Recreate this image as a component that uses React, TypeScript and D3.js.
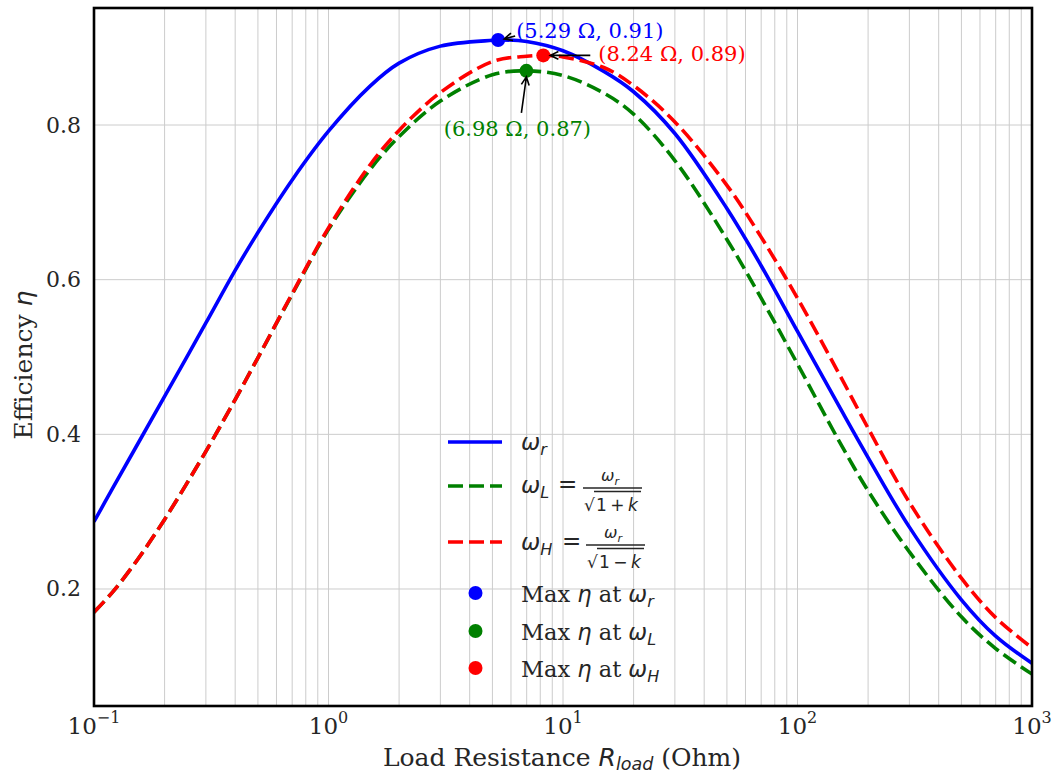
import React from 'react';
import * as d3 from 'd3';

// ---------- data ----------
const R_VALUES = [0.1, 0.12, 0.15, 0.2, 0.3, 0.4, 0.5, 0.7, 1, 1.5, 2, 3, 5, 7, 10, 15, 20, 30, 50, 70, 100, 150, 200, 300, 500, 700, 1000];
const ETA_R = [0.287, 0.330, 0.382, 0.449, 0.544, 0.612, 0.661, 0.729, 0.792, 0.850, 0.880, 0.902, 0.9095, 0.908, 0.896, 0.869, 0.843, 0.789, 0.692, 0.618, 0.533, 0.437, 0.370, 0.280, 0.186, 0.139, 0.104];
const ETA_L = [0.170, 0.196, 0.234, 0.290, 0.378, 0.445, 0.499, 0.581, 0.665, 0.742, 0.785, 0.831, 0.865, 0.870, 0.864, 0.841, 0.814, 0.754, 0.652, 0.576, 0.491, 0.392, 0.327, 0.248, 0.164, 0.123, 0.090];
const ETA_H = [0.170, 0.196, 0.234, 0.290, 0.378, 0.445, 0.499, 0.582, 0.667, 0.748, 0.793, 0.842, 0.882, 0.889, 0.888, 0.874, 0.851, 0.804, 0.722, 0.655, 0.576, 0.479, 0.408, 0.312, 0.214, 0.163, 0.124];

const PEAK_R = [5.29, 6.98, 8.24];
const PEAK_ETA = [0.91, 0.87, 0.89];
const PEAK_LABELS = ['(5.29 Ω, 0.91)', '(6.98 Ω, 0.87)', '(8.24 Ω, 0.89)'];
const SERIES_COLORS = ['#0000ff', '#008000', '#ff0000'];
const SERIES_DASH = [null, '15 6', '15 6'];

const X_TICK_EXP = [-1, 0, 1, 2, 3];
const Y_TICKS = [0.2, 0.4, 0.6, 0.8];

// ---------- layout ----------
const W = 1055;
const H = 774;
const PLOT = { left: 94, right: 1032, top: 8, bottom: 706 };
const TXT = '#262626';
const SERIF = 'DejaVu Serif';
const SANS = 'DejaVu Sans';

const x = d3.scaleLog().domain([0.1, 1000]).range([PLOT.left, PLOT.right]);
const y = d3.scaleLinear().domain([0.0487, 0.9513]).range([PLOT.bottom, PLOT.top]);

function seriesPoints(vals: number[], peakIdx: number): [number, number][] {
  const pr = PEAK_R[peakIdx];
  const pts: [number, number][] = R_VALUES.map((r, i) => [r, vals[i]] as [number, number]).filter(
    (p) => Math.abs(Math.log10(p[0]) - Math.log10(pr)) > 0.01
  );
  pts.push([pr, PEAK_ETA[peakIdx]]);
  pts.sort((a, b) => a[0] - b[0]);
  return pts;
}

const lineGen = d3
  .line<[number, number]>()
  .x((d) => x(d[0]))
  .y((d) => y(d[1]))
  .curve(d3.curveCatmullRom.alpha(0.5));

function arrowPath(x1: number, y1: number, x2: number, y2: number, head = 8) {
  const ang = Math.atan2(y2 - y1, x2 - x1);
  const a1 = ang + Math.PI - 0.45;
  const a2 = ang + Math.PI + 0.45;
  return `M${x1},${y1}L${x2},${y2}M${x2 + head * Math.cos(a1)},${y2 + head * Math.sin(a1)}L${x2},${y2}L${x2 + head * Math.cos(a2)},${y2 + head * Math.sin(a2)}`;
}

function Omega({ x0, y0, sub, size = 23 }: { x0: number; y0: number; sub: string; size?: number }) {
  return (
    <text x={x0} y={y0} fontFamily={SANS} fontStyle="italic" fontSize={size} fill={TXT}>
      ω
      <tspan fontSize={size * 0.7} dy={size * 0.22}>
        {sub}
      </tspan>
    </text>
  );
}

function FracLabel({ x0, yb, sub, sign }: { x0: number; yb: number; sub: string; sign: string }) {
  const isH = sub === 'H';
  const fracX = x0 + (isH ? 65 : 62);
  const barY = yb - 5;
  return (
    <g>
      <Omega x0={x0} y0={yb} sub={sub} />
      <text x={x0 + (isH ? 41 : 37)} y={yb - 1} fontFamily={SANS} fontSize={23} fill={TXT}>
        =
      </text>
      <Omega x0={fracX + 18} y0={barY - 7} sub="r" size={16} />
      <line x1={fracX} x2={fracX + 59} y1={barY} y2={barY} stroke={TXT} strokeWidth={1.5} />
      <line x1={fracX + 11} x2={fracX + 58} y1={barY + 3.5} y2={barY + 3.5} stroke={TXT} strokeWidth={1.4} />
      <text x={fracX + 1} y={yb + 18} fontFamily={SANS} fontSize={17} fill={TXT}>
        √
      </text>
      <text x={fracX + 13} y={yb + 18} fontFamily={SANS} fontSize={17} fill={TXT}>
        1{'\u2009'}{sign}{'\u2009'}
        <tspan fontStyle="italic">k</tspan>
      </text>
    </g>
  );
}

export default function App() {
  const gridTicks: number[] = [];
  for (let e = -1; e < 3; e++) for (let m = 1; m < 10; m++) gridTicks.push(m * Math.pow(10, e));
  gridTicks.push(1000);

  const series = [ETA_R, ETA_L, ETA_H];

  // annotation offsets (text position relative to the marker, arrow tail/head)
  const ann = [
    { tx: 18, ty: -2, anchor: 'start', ax: [17, -4], ah: [6, -1] },
    { tx: -9, ty: 65, anchor: 'middle', ax: [-5, 42], ah: [0, 6] },
    { tx: 55, ty: 6, anchor: 'start', ax: [47, 0], ah: [7, 0] },
  ];

  const legendX = 448;
  const legendLineRows = [442, 486, 542];
  const legendDotRows = [593, 631, 668];
  const dotSubs = ['r', 'L', 'H'];

  return (
    <div style={{ position: 'absolute', left: 0, top: 0 }}>
      <svg width={W} height={H} viewBox={`0 0 ${W} ${H}`} style={{ display: 'block', background: '#fff' }}>
        <defs>
          <clipPath id="plotClip">
            <rect x={PLOT.left} y={PLOT.top} width={PLOT.right - PLOT.left} height={PLOT.bottom - PLOT.top} />
          </clipPath>
        </defs>
        <rect x={0} y={0} width={W} height={H} fill="#fff" />

        {/* grid */}
        <g stroke="#cccccc" strokeWidth={1}>
          {gridTicks.map((t, i) => (
            <line key={'gx' + i} x1={x(t)} x2={x(t)} y1={PLOT.top} y2={PLOT.bottom} />
          ))}
          {Y_TICKS.map((t) => (
            <line key={'gy' + t} x1={PLOT.left} x2={PLOT.right} y1={y(t)} y2={y(t)} />
          ))}
        </g>

        {/* curves */}
        <g clipPath="url(#plotClip)">
          {[0, 1, 2].map((si) => (
            <path
              key={'s' + si}
              d={lineGen(seriesPoints(series[si], si)) || ''}
              fill="none"
              stroke={SERIES_COLORS[si]}
              strokeWidth={3.6}
              strokeDasharray={SERIES_DASH[si] || undefined}
            />
          ))}
        </g>

        {/* peak markers */}
        {PEAK_R.map((r, i) => (
          <circle key={'pk' + i} cx={x(r)} cy={y(PEAK_ETA[i])} r={7} fill={SERIES_COLORS[i]} />
        ))}

        {/* annotations */}
        {PEAK_R.map((r, i) => {
          const px = x(r);
          const py = y(PEAK_ETA[i]);
          const a = ann[i];
          return (
            <g key={'an' + i}>
              <path
                d={arrowPath(px + a.ax[0], py + a.ax[1], px + a.ah[0], py + a.ah[1], 9)}
                fill="none"
                stroke="#000"
                strokeWidth={1.6}
              />
              <text
                x={px + a.tx}
                y={py + a.ty}
                textAnchor={a.anchor as any}
                fontFamily={SERIF}
                fontSize={21}
                fill={SERIES_COLORS[i]}
              >
                {PEAK_LABELS[i]}
              </text>
            </g>
          );
        })}

        {/* frame */}
        <rect
          x={PLOT.left}
          y={PLOT.top}
          width={PLOT.right - PLOT.left}
          height={PLOT.bottom - PLOT.top}
          fill="none"
          stroke="#000"
          strokeWidth={2.6}
        />

        {/* y tick labels */}
        {Y_TICKS.map((t) => (
          <text
            key={'yt' + t}
            x={PLOT.left - 13}
            y={y(t) + 7.5}
            textAnchor="end"
            fontFamily={SERIF}
            fontSize={22}
            fill={TXT}
          >
            {t.toFixed(1)}
          </text>
        ))}

        {/* x tick labels */}
        {X_TICK_EXP.map((e) => {
          const px = x(Math.pow(10, e));
          return (
            <text key={'xt' + e} x={px} y={734} textAnchor="middle" fontFamily={SERIF} fontSize={23} fill={TXT}>
              10
              <tspan fontSize={16} dy={-11}>
                {e < 0 ? '−' + Math.abs(e) : String(e)}
              </tspan>
            </text>
          );
        })}

        {/* axis labels */}
        <text x={562} y={766} textAnchor="middle" fontFamily={SERIF} fontSize={25} fill={TXT}>
          Load Resistance{' '}
          <tspan fontFamily={SANS} fontStyle="italic">
            R
          </tspan>
          <tspan fontFamily={SANS} fontStyle="italic" fontSize={17.5} dy={4}>
            load
          </tspan>
          <tspan dy={-4}> (Ohm)</tspan>
        </text>
        <text
          transform={`translate(32,365) rotate(-90)`}
          textAnchor="middle"
          fontFamily={SERIF}
          fontSize={25}
          fill={TXT}
        >
          Efficiency{' '}
          <tspan fontFamily={SANS} fontStyle="italic">
            η
          </tspan>
        </text>

        {/* legend */}
        <g>
          {legendLineRows.map((ly, i) => (
            <line
              key={'ll' + i}
              x1={legendX}
              x2={legendX + 54}
              y1={ly}
              y2={ly}
              stroke={SERIES_COLORS[i]}
              strokeWidth={3.6}
              strokeDasharray={SERIES_DASH[i] || undefined}
            />
          ))}
          <Omega x0={521} y0={450} sub="r" />
          <FracLabel x0={521} yb={493} sub="L" sign="+" />
          <FracLabel x0={521} yb={550} sub="H" sign="−" />
          {legendDotRows.map((ly, i) => (
            <g key={'ld' + i}>
              <circle cx={475.5} cy={ly} r={7} fill={SERIES_COLORS[i]} />
              <text x={521} y={ly + 8.5} fontFamily={SERIF} fontSize={22.5} fill={TXT}>
                Max{' '}
                <tspan fontFamily={SANS} fontStyle="italic">
                  η
                </tspan>{' '}
                at{' '}
                <tspan fontFamily={SANS} fontStyle="italic">
                  ω
                </tspan>
                <tspan fontFamily={SANS} fontStyle="italic" fontSize={16} dy={5}>
                  {dotSubs[i]}
                </tspan>
              </text>
            </g>
          ))}
        </g>
      </svg>
    </div>
  );
}
